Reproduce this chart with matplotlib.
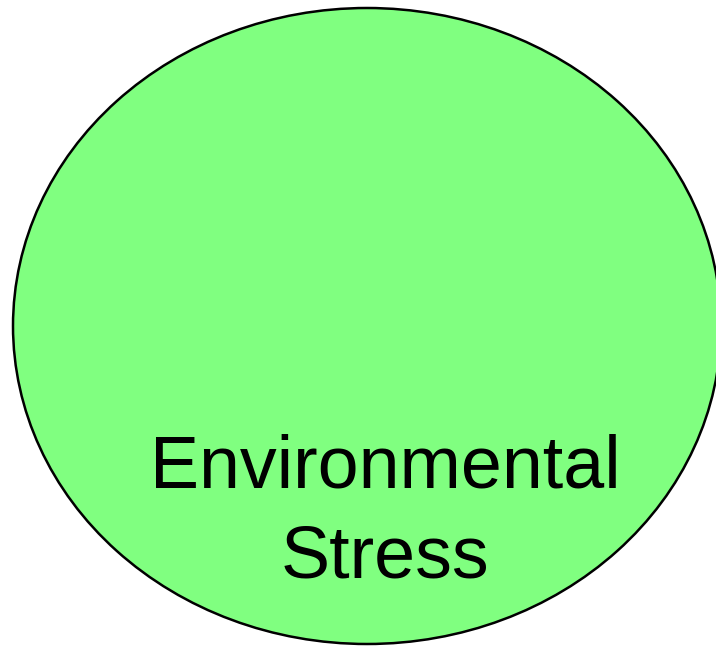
import matplotlib
matplotlib.use("Agg")
from matplotlib import pyplot as plt
from matplotlib.patches import Ellipse

W, H = 716, 646

# ellipse (pixel units of the picture)
CENTER = (367, 326)
SIZE = (708, 636)
FILL = '#80ff80'

LABEL_LINES = ['Environmental', 'Stress']
LABEL_BASELINES = [488, 577]
LABEL_X = 385

fig = plt.figure(figsize=(W / 100, H / 100), dpi=100)
ax = fig.add_axes([0, 0, 1, 1])
ax.set_xlim(0, W)
ax.set_ylim(H, 0)
ax.axis('off')

e = Ellipse(CENTER, SIZE[0], SIZE[1], facecolor=FILL, edgecolor='black', lw=1.8)
ax.add_patch(e)

for txt, yb in zip(LABEL_LINES, LABEL_BASELINES):
    ax.text(LABEL_X, yb, txt, ha='center', va='baseline', fontsize=53,
            family='Liberation Sans', color='black')

fig.savefig('out.png', dpi=100)
